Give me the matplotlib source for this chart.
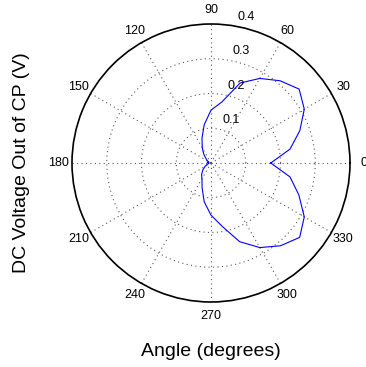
import numpy as np
import matplotlib
matplotlib.use("Agg")
import matplotlib.pyplot as plt

plt.rcParams['font.family'] = ['Liberation Sans', 'DejaVu Sans']

# measured angle (deg) and DC voltage (V)
angle_deg = [0, 10, 20, 30, 40, 50, 60, 70, 80, 90, 100, 110, 120, 130, 140, 150,
             160, 170, 180, 190, 200, 210, 220, 230, 240, 250, 260, 270, 280, 290,
             300, 310, 320, 330, 340, 350, 360]
voltage = [0.172, 0.231, 0.272, 0.310, 0.331, 0.309, 0.281, 0.245, 0.178, 0.152,
           0.112, 0.076, 0.050, 0.032, 0.018, 0.012, 0.006, 0.010, 0.008, 0.006,
           0.012, 0.020, 0.030, 0.042, 0.052, 0.075, 0.113, 0.150, 0.185, 0.241,
           0.281, 0.311, 0.333, 0.310, 0.269, 0.231, 0.172]

theta_ticks = [0, 30, 60, 90, 120, 150, 180, 210, 240, 270, 300, 330]
theta_labels = ['0', '30', '60', '90', '120', '150', '180', '210', '240', '270', '300', '330']
r_ticks = [0.1, 0.2, 0.3, 0.4]
r_labels = ['0.1', '0.2', '0.3', '0.4']
r_max = 0.4

fig = plt.figure(figsize=(3.66, 3.67), dpi=100)
ax = fig.add_axes([0.1967, 0.1771, 0.7596, 0.7575], projection='polar')

ax.plot(np.radians(angle_deg), voltage, color='#0000ff', lw=0.8)

ax.set_ylim(0, r_max)
ax.set_yticks(r_ticks[:-1])
ax.set_yticklabels([])
ax.set_xticks(np.radians(theta_ticks))
ax.set_xticklabels([])
ax.grid(True, color='0.35', linestyle=(0, (1, 3)), linewidth=0.8)
ax.spines['polar'].set_linewidth(1.2)
ax.spines['polar'].set_color('black')

for t, lab in zip(theta_ticks, theta_labels):
    ax.text(np.radians(t), r_max * 1.1, lab, ha='center', va='center', fontsize=9)

for r, lab in zip(r_ticks, r_labels):
    ax.annotate(lab, xy=(np.radians(82), r), xytext=(5, 6), textcoords='offset points',
                ha='left', va='center', fontsize=9)

fig.text(211 / 366, 1 - 352 / 367, 'Angle (degrees)', ha='center', va='center', fontsize=14)
fig.text(22 / 366, 1 - 163 / 367, 'DC Voltage Out of CP (V)', ha='center', va='center',
         rotation=90, fontsize=14)

fig.savefig('out.png', dpi=100)
